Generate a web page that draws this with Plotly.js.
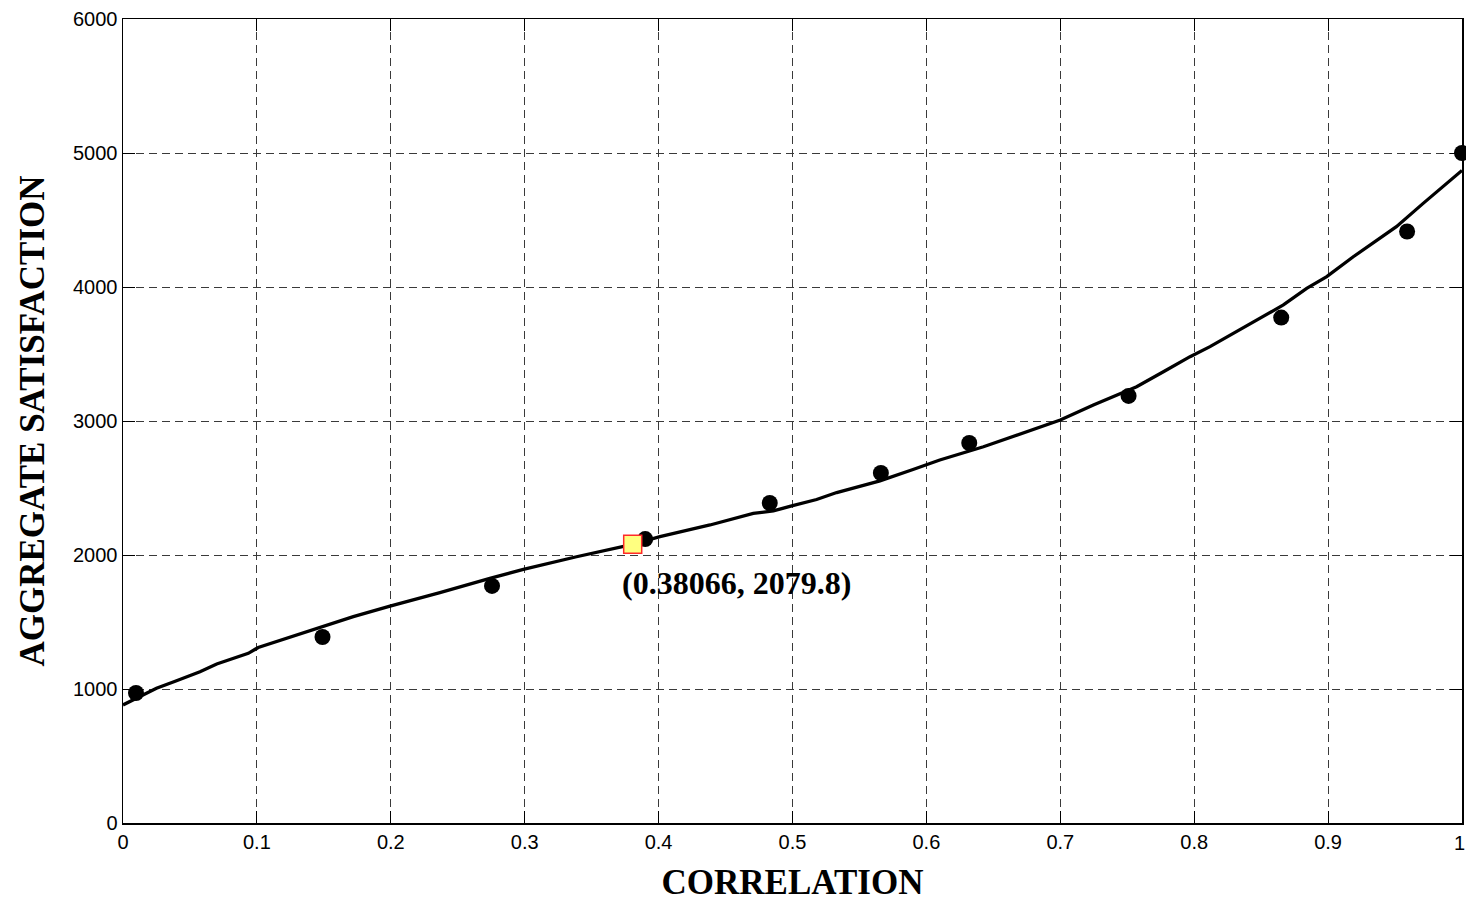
<!DOCTYPE html>
<html>
<head>
<meta charset="utf-8">
<script src="https://cdn.plot.ly/plotly-3.0.1.min.js"></script>
<style>html,body{margin:0;padding:0;background:#fff;}#chart{width:1466px;height:904px;}</style>
</head>
<body>
<div id="chart"></div>
<script>
// Fitted curve
const curveX = [0, 0.0102, 0.025, 0.039, 0.0575, 0.07, 0.0936, 0.101, 0.122, 0.137, 0.1496, 0.172, 0.1994, 0.2367, 0.274, 0.299, 0.3387, 0.3737, 0.38066, 0.401, 0.4384, 0.4707, 0.4857, 0.4994, 0.518, 0.533, 0.5653, 0.590, 0.610, 0.6426, 0.6647, 0.700, 0.7247, 0.757, 0.777, 0.7969, 0.8118, 0.834, 0.8666, 0.884, 0.899, 0.9188, 0.9363, 0.951, 0.971, 1.0];
const curveY = [881, 930, 1005, 1058, 1129, 1187, 1266, 1310, 1377, 1428, 1465, 1540, 1619, 1719, 1826, 1892, 1987, 2067, 2079.8, 2137, 2224, 2310, 2329, 2366, 2414, 2466, 2553, 2638, 2709, 2808, 2883, 3007, 3119, 3256, 3368, 3480, 3555, 3679, 3866, 3990, 4077, 4226, 4351, 4450, 4624, 4870];
// Observed points
const pointX = [0.0097, 0.149, 0.2756, 0.390, 0.483, 0.566, 0.632, 0.751, 0.865, 0.959, 1.0];
const pointY = [970, 1388, 1769, 2119, 2388, 2612, 2836, 3187, 3772, 4414, 5000];
// Highlighted data cursor
const cursorX = [0.38066];
const cursorY = [2079.8];
const cursorLabel = '(0.38066, 2079.8)';
// Ticks
const xTicks = [0, 0.1, 0.2, 0.3, 0.4, 0.5, 0.6, 0.7, 0.8, 0.9, 1];
const xTickText = ['0', '0.1', '0.2', '0.3', '0.4', '0.5', '0.6', '0.7', '0.8', '0.9', '1'];
const yTicks = [0, 1000, 2000, 3000, 4000, 5000, 6000];
const yTickText = ['0', '1000', '2000', '3000', '4000', '5000', '6000'];

const tickFont = {family: 'Liberation Sans, Arial, sans-serif', size: 20, color: '#000'};

const traces = [
  {x: curveX, y: curveY, mode: 'lines', line: {color: '#000', width: 3.3}, hoverinfo: 'skip'},
  {x: pointX, y: pointY, mode: 'markers', marker: {color: '#000', size: 16}, cliponaxis: false},
  {x: cursorX, y: cursorY, mode: 'markers', marker: {symbol: 'square', color: '#ffff80', size: 18, line: {color: '#ff2a2a', width: 1.5}}, cliponaxis: false}
];

const axisCommon = {
  showline: true, linecolor: '#000', linewidth: 1.5, mirror: 'ticks',
  ticks: 'inside', ticklen: 12, tickcolor: '#000', tickwidth: 1,
  showgrid: true, gridcolor: '#3a3a3a', gridwidth: 1, griddash: '8px,5px',
  zeroline: false,
  tickfont: tickFont
};

// The last x tick label sits at the right edge of the page; draw it as a right-anchored label so it stays inside.
const xTickTextShown = xTickText.map((t, i) => i === xTickText.length - 1 ? '' : t);

const layout = {
  width: 1466, height: 904,
  margin: {l: 123, r: 4, t: 19, b: 81},
  paper_bgcolor: '#fff', plot_bgcolor: '#fff',
  showlegend: false,
  xaxis: Object.assign({}, axisCommon, {
    range: [0, 1], tickvals: xTicks, ticktext: xTickTextShown,
    title: {text: 'CORRELATION', font: {family: 'Liberation Serif, Times New Roman, serif', size: 35, color: '#000', weight: 'bold'}, standoff: 18}
  }),
  yaxis: Object.assign({}, axisCommon, {
    range: [0, 6000], tickvals: yTicks, ticktext: yTickText,
    title: {text: 'AGGREGATE SATISFACTION', font: {family: 'Liberation Serif, Times New Roman, serif', size: 35, color: '#000', weight: 'bold'}, standoff: 18}
  }),
  annotations: [{
    x: cursorX[0], y: cursorY[0], xref: 'x', yref: 'y',
    text: '<b>' + cursorLabel + '</b>', showarrow: false,
    xanchor: 'left', yanchor: 'middle', xshift: -13, yshift: -39,
    font: {family: 'Liberation Serif, Times New Roman, serif', size: 32, color: '#000'}
  }, {
    x: xTicks[xTicks.length - 1], y: 0, xref: 'x', yref: 'paper',
    text: xTickText[xTickText.length - 1], showarrow: false,
    xanchor: 'right', yanchor: 'middle', xshift: 4, yshift: -20, borderpad: 0,
    font: tickFont
  }]
};

Plotly.newPlot('chart', traces, layout, {displayModeBar: false, staticPlot: true});
</script>
</body>
</html>
